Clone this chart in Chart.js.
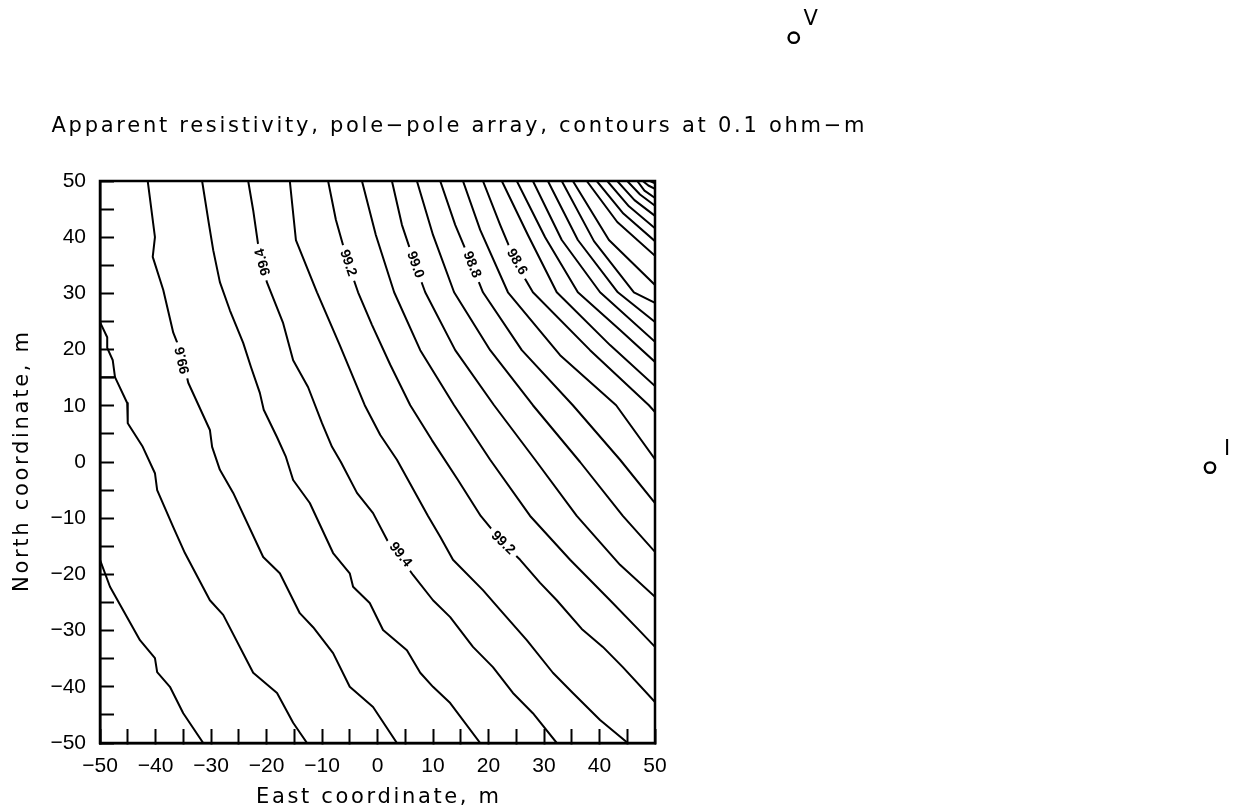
<!DOCTYPE html>
<html><head><meta charset="utf-8">
<script src="https://cdn.jsdelivr.net/npm/chart.js@4.4.1/dist/chart.umd.min.js"></script>
<style>html,body{margin:0;padding:0;background:#fff;}canvas{display:block;}</style>
</head><body>
<canvas id="c" width="1233" height="809"></canvas>
<script>
// ---------- data (East, North in metres) ----------
const titleText = 'Apparent resistivity, pole\u2212pole array, contours at 0.1 ohm\u2212m';
const xTitle = 'East coordinate, m';
const yTitle = 'North coordinate, m';
const tickValues = [-50, -40, -30, -20, -10, 0, 10, 20, 30, 40, 50];
const tickLabels = ['\u221250', '\u221240', '\u221230', '\u221220', '\u221210', '0', '10', '20', '30', '40', '50'];

const levels = [99.8, 99.7, 99.6, 99.5, 99.4, 99.3, 99.2, 99.1, 99.0, 98.9, 98.8, 98.7, 98.6, 98.5, 98.4, 98.3, 98.2, 98.1, 98.0, 97.9, 97.8, 97.7, 97.6, 97.5, 97.4, 97.3, 97.2];

const c998 = [[-50,-17.4],[-48.2,-22.2],[-42.8,-31.7],[-40.1,-34.9],[-39.7,-37.4],[-37.4,-40.0],[-35.0,-44.7],[-31.4,-50]];
const c997 = [[-50,24.9],[-48.7,22.2],[-48.7,20.3],[-47.7,18.1],[-47.3,15.1],[-45.1,10.5],[-45.0,6.9],[-42.3,2.7],[-40.1,-2.0],[-39.7,-5.0],[-36.8,-11.6],[-34.7,-16.2],[-30.2,-24.6],[-27.8,-27.2],[-22.4,-37.5],[-18.1,-41.1],[-15.2,-46.4],[-12.7,-50]];
const c997stub = [[-50,15.1],[-47.3,15.1]];
const c996 = [[-41.4,50],[-40.1,40.0],[-40.5,36.5],[-38.6,30.6],[-36.8,23.0],[-35.2,19.0],[-34.1,14.1],[-30.2,5.7],[-29.8,2.7],[-28.4,-1.4],[-26.0,-5.5],[-20.6,-16.9],[-17.6,-19.8],[-14.0,-26.9],[-11.6,-29.4],[-8.0,-34.0],[-5.0,-40.0],[-0.8,-43.6],[3.5,-50]];
const c995 = [[-31.6,50],[-30.4,42.5],[-29.6,37.7],[-28.4,32.0],[-26.6,27.0],[-24.2,21.2],[-22.8,16.9],[-21.2,12.3],[-20.5,9.3],[-18.1,4.4],[-16.5,0.9],[-15.2,-3.2],[-12.2,-7.3],[-8.0,-16.2],[-5.0,-19.8],[-4.4,-22.2],[-1.4,-25.1],[1.0,-29.9],[5.3,-33.5],[7.7,-37.5],[10.0,-40.0],[13.1,-42.9],[18.5,-50]];
const c994 = [[-23.3,50],[-22.4,44.8],[-21.7,40.0],[-21.2,36.5],[-19.9,31.9],[-17.0,24.7],[-15.2,18.1],[-12.5,13.3],[-10.0,6.9],[-8.2,2.7],[-6.6,0.0],[-3.7,-5.5],[-0.8,-9.1],[1.9,-14.2],[4.1,-16.9],[6.4,-20.1],[10.0,-24.6],[13.1,-27.6],[17.2,-32.9],[20.8,-36.5],[24.4,-41.1],[28.0,-44.7],[32.3,-50]];
const c993 = [[-15.8,50],[-14.7,39.5],[-10.9,30.2],[-6.8,20.8],[-2.3,10.1],[0.5,4.8],[3.5,0.4],[9.1,-9.6],[11.3,-13.3],[13.6,-17.4],[19.0,-22.8],[22.1,-26.3],[26.9,-31.7],[31.6,-37.5],[35.2,-41.1],[40.1,-45.9],[45.1,-50]];
const c992 = [[-8.9,50],[-7.5,43.1],[-5.3,35.4],[-3.5,30.2],[-1.0,24.4],[2.3,17.3],[5.9,10.1],[9.8,3.9],[14.5,-3.2],[18.6,-9.6],[22.6,-14.4],[25.7,-17.4],[29.3,-21.5],[32.3,-24.6],[36.8,-29.7],[40.6,-32.9],[44.2,-36.5],[50,-42.7]];
const c991 = [[-2.8,50],[-0.3,40.4],[3.0,30.2],[7.7,19.9],[13.8,10.1],[20.3,0.4],[27.5,-9.6],[34.7,-17.4],[41.9,-24.6],[46.9,-29.7],[50,-32.9]];
const c990 = [[2.6,50],[4.4,42.2],[6.8,35.1],[8.6,30.2],[14.0,19.9],[21.0,10.1],[28.4,0.4],[35.9,-9.6],[43.7,-18.3],[50,-24.0]];
const c989 = [[7.1,50],[10.0,40.4],[13.8,30.2],[20.3,19.9],[28.0,10.1],[36.5,0.0],[44.2,-9.6],[50,-16.0]];
const c988 = [[11.3,50],[14.0,42.2],[17.0,35.1],[19.0,30.2],[26.0,19.9],[35.2,10.1],[43.7,0.4],[50,-7.3]];
const c987 = [[15.4,50],[18.5,41.3],[23.5,30.2],[32.9,19.0],[43.0,10.1],[50,0.5]];
const c986 = [[19.0,50],[22.1,42.2],[25.1,35.1],[28.0,30.2],[38.3,19.9],[48.9,10.1],[50,8.9]];
const c985 = [[22.4,50],[27.1,40.4],[32.3,30.2],[41.9,20.8],[50,13.5]];
const c984 = [[25.1,50],[30.2,40.0],[36.1,30.2],[43.7,23.5],[50,17.8]];
const c983 = [[28.0,50],[33.2,39.5],[40.1,30.2],[50,21.4]];
const c982 = [[30.7,50],[36.1,39.5],[43.3,30.2],[50,24.9]];
const c981 = [[33.2,50],[39.0,39.3],[46.2,30.2],[50,28.3]];
const c980 = [[35.2,50],[41.7,39.5],[50,31.5]];
const c979 = [[37.7,50],[43.2,42.7],[50,36.7]];
const c978 = [[39.5,50],[44.3,44.2],[50,39.3]];
const c977 = [[41.4,50],[45.3,45.5],[50,41.6]];
const c976 = [[43.2,50],[46.3,46.6],[50,43.8]];
const c975 = [[45.0,50],[47.3,47.6],[50,45.6]];
const c974 = [[46.8,50],[48.1,48.3],[50,47.0]];
const c973 = [[47.8,50],[48.8,49.2],[50,48.6]];
const c972 = [[49.1,50],[50,49.6]];

const labelLevel = [99.6, 99.4, 99.2, 99.0, 98.8, 98.6, 99.4, 99.2];
const labelE = [-35.1, -20.6, -5.3, 6.8, 17.0, 25.1, 4.1, 22.6];
const labelN = [18.1, 35.6, 35.4, 35.1, 35.1, 35.6, -16.5, -14.4];
const labelFlip = [true, true, false, false, false, false, false, false];

const electrodeName = ['V', 'I'];
const electrodeE = [75, 150];
const electrodeN = [75.5, -1];

// ---------- build ----------
const contourList = [c998, c997, c996, c995, c994, c993, c992, c991, c990, c989, c988, c987, c986, c985, c984, c983, c982, c981, c980, c979, c978, c977, c976, c975, c974, c973, c972];
const toXY = arr => arr.map(p => ({x: p[0], y: p[1]}));
const lineStyle = {showLine: true, borderColor: '#000', borderWidth: 2, pointRadius: 0, pointHoverRadius: 0, tension: 0, fill: false, borderJoinStyle: 'round', borderCapStyle: 'round'};
const datasets = contourList.map((c, i) => Object.assign({label: levels[i].toFixed(1), data: toXY(c)}, lineStyle));
datasets.push(Object.assign({label: '99.7b', data: toXY(c997stub)}, lineStyle));

const FONT = '"DejaVu Sans", "Liberation Sans", Arial, sans-serif';

function spacedText(ctx, text, font, width, cx, by, rot) {
  ctx.save();
  ctx.font = font;
  ctx.letterSpacing = '0px';
  const w0 = ctx.measureText(text).width;
  const sp = (width - w0) / (text.length - 1);
  ctx.letterSpacing = sp + 'px';
  ctx.translate(cx, by);
  if (rot) ctx.rotate(rot);
  ctx.fillStyle = '#000';
  ctx.textAlign = 'left';
  ctx.textBaseline = 'alphabetic';
  ctx.fillText(text, -width / 2, 0);
  ctx.restore();
}

const decor = {
  id: 'decor',
  afterDatasetsDraw(chart) {
    const ctx = chart.ctx, a = chart.chartArea, xs = chart.scales.x, ys = chart.scales.y;
    const P = (e, n) => [xs.getPixelForValue(e), ys.getPixelForValue(n)];
    // contour labels
    for (let i = 0; i < labelLevel.length; i++) {
      const [px, py] = P(labelE[i], labelN[i]);
      const pts = contourList[levels.indexOf(labelLevel[i])].map(p => P(p[0], p[1]));
      let best = Infinity, ang = 0;
      for (let k = 0; k < pts.length - 1; k++) {
        const mx = (pts[k][0] + pts[k + 1][0]) / 2, my = (pts[k][1] + pts[k + 1][1]) / 2;
        const d = (mx - px) ** 2 + (my - py) ** 2;
        if (d < best) { best = d; ang = Math.atan2(pts[k + 1][1] - pts[k][1], pts[k + 1][0] - pts[k][0]); }
      }
      if (labelFlip[i]) ang += Math.PI;
      const t = labelLevel[i].toFixed(1);
      ctx.save();
      ctx.translate(px, py);
      ctx.rotate(ang);
      ctx.font = 'bold 14px "Liberation Sans", Arial, sans-serif';
      const w = ctx.measureText(t).width;
      ctx.fillStyle = '#fff';
      ctx.fillRect(-w / 2 - 5, -7, w + 10, 14);
      ctx.fillStyle = '#000';
      ctx.textAlign = 'center';
      ctx.textBaseline = 'middle';
      ctx.fillText(t, 0, 0);
      ctx.restore();
    }
    // frame
    ctx.save();
    ctx.strokeStyle = '#000';
    ctx.lineWidth = 2.5;
    ctx.strokeRect(a.left, a.top, a.right - a.left, a.bottom - a.top);
    ctx.restore();
    // electrodes (positions through the chart scales, outside the plot area)
    ctx.save();
    ctx.strokeStyle = '#000';
    ctx.lineWidth = 2.4;
    ctx.font = '21px ' + FONT;
    ctx.fillStyle = '#000';
    ctx.textAlign = 'center';
    ctx.textBaseline = 'middle';
    electrodeName.forEach((nm, i) => {
      const [px, py] = P(electrodeE[i], electrodeN[i]);
      ctx.beginPath();
      ctx.arc(px, py, 5.2, 0, Math.PI * 2);
      ctx.stroke();
      ctx.fillText(nm, px + 17, py - 18);
    });
    ctx.restore();
    // titles
    const f = '21px ' + FONT;
    spacedText(ctx, titleText, f, 813, 458, 132, 0);
    spacedText(ctx, xTitle, f, 243, (a.left + a.right) / 2, 803, 0);
    spacedText(ctx, yTitle, f, 260, 28, (a.top + a.bottom) / 2, -Math.PI / 2);
  }
};

const tickFont = {family: '"Liberation Sans", Arial, sans-serif', size: 21};
const tickCb = v => { const i = tickValues.indexOf(v); return i >= 0 ? tickLabels[i] : ''; };

new Chart(document.getElementById('c'), {
  type: 'scatter',
  data: {datasets},
  options: {
    responsive: false,
    animation: false,
    devicePixelRatio: 1,
    layout: {padding: {left: 0, right: 578, top: 181, bottom: 0}},
    plugins: {legend: {display: false}, tooltip: {enabled: false}, title: {display: false}},
    scales: {
      x: {
        type: 'linear', position: 'bottom', min: -50, max: 50,
        ticks: {stepSize: 5, autoSkip: false, maxRotation: 0, color: '#000', font: tickFont, padding: 25, callback: tickCb},
        grid: {display: true, drawOnChartArea: false, drawTicks: true, tickLength: -14, tickWidth: 2, tickColor: '#000'},
        border: {display: true, color: '#000', width: 2.5},
        afterFit: s => { s.height = 66; }
      },
      y: {
        type: 'linear', position: 'left', min: -50, max: 50,
        ticks: {stepSize: 5, autoSkip: false, color: '#000', font: tickFont, padding: 28, callback: tickCb},
        grid: {display: true, drawOnChartArea: false, drawTicks: true, tickLength: -14, tickWidth: 2, tickColor: '#000'},
        border: {display: true, color: '#000', width: 2.5},
        afterFit: s => { s.width = 100; }
      }
    }
  },
  plugins: [decor]
});
</script>
</body></html>
